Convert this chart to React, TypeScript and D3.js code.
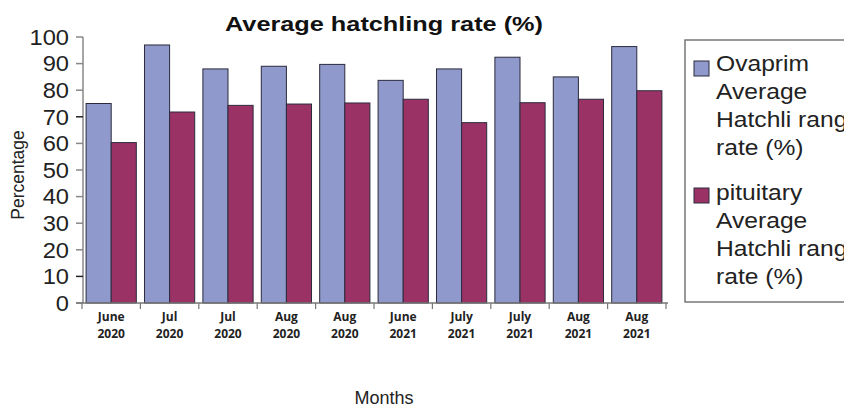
import React from "react";
import * as d3 from "d3";

const months = ["June", "Jul", "Jul", "Aug", "Aug", "June", "July", "July", "Aug", "Aug"];
const years = ["2020", "2020", "2020", "2020", "2020", "2021", "2021", "2021", "2021", "2021"];
const ovaprim = [75, 97, 88, 89, 89.7, 83.7, 88, 92.4, 85, 96.4];
const pituitary = [60.3, 71.8, 74.3, 74.8, 75.2, 76.6, 67.8, 75.3, 76.6, 79.8];
const yTicks = [0, 10, 20, 30, 40, 50, 60, 70, 80, 90, 100];
const seriesNames = ["Ovaprim", "pituitary"];
const legendLines = [
  ["Ovaprim", "Average", "Hatchli rang", "rate (%)"],
  ["pituitary", "Average", "Hatchli rang", "rate (%)"],
];

const W = 844;
const H = 408;
const BLUE = "#9099cb";
const RED = "#9b3266";

export default function App() {
  const idx = months.map((_, i) => i);
  const x = d3.scaleBand<number>().domain(idx).range([82, 666]).paddingInner(0.14).paddingOuter(0.07);
  const x1 = d3.scaleBand<number>().domain([0, 1]).range([0, x.bandwidth()]);
  const y = d3.scaleLinear().domain([0, 100]).range([303, 37]);
  const step = x.step();
  const boundaries = d3.range(0, months.length + 1).map((i) => 82 + i * step);
  const font = "'Liberation Sans', Arial, sans-serif";
  const values = [ovaprim, pituitary];
  const colors = [BLUE, RED];

  return (
    <svg width={W} height={H} style={{ position: "absolute", left: 0, top: 0, background: "#fff" }}>
      <text
        x={225}
        y={31}
        textLength={318}
        lengthAdjust="spacingAndGlyphs"
        fontFamily={font}
        fontWeight="bold"
        fontSize={21}
        fill="#111"
      >
        Average hatchling rate (%)
      </text>
      {/* bars */}
      {idx.map((i) =>
        values.map((vals, s) => (
          <rect
            key={`${i}-${s}`}
            x={(x(i) as number) + (x1(s) as number)}
            y={y(vals[i])}
            width={x1.bandwidth()}
            height={y(0) - y(vals[i])}
            fill={colors[s]}
            stroke="#2b2b3d"
            strokeWidth={1}
          />
        ))
      )}
      {/* y axis */}
      <line x1={83} x2={83} y1={y(100)} y2={y(0)} stroke="#888" strokeWidth={1.5} />
      {yTicks.map((t) => (
        <g key={t}>
          <line x1={76} x2={83} y1={y(t)} y2={y(t)} stroke={t === 10 || t === 70 ? "#222" : "#888"} strokeWidth={1.5} />
          <text
            transform={`translate(69,${y(t)}) scale(1.1,1)`}
            dy="0.36em"
            textAnchor="end"
            fontFamily={font}
            fontSize={21.5}
            fill="#222"
          >
            {t}
          </text>
        </g>
      ))}
      {/* x axis */}
      <line x1={76} x2={668} y1={y(0)} y2={y(0)} stroke="#777" strokeWidth={1.5} />
      {boundaries.map((b, i) => (
        <line key={i} x1={b} x2={b} y1={y(0)} y2={y(0) + 6} stroke="#777" strokeWidth={1.2} />
      ))}
      {idx.map((i) => {
        const cx = (x(i) as number) + x.bandwidth() / 2;
        return (
          <text
            key={i}
            y={y(0) + 18}
            textAnchor="middle"
            fontFamily="'Open Sans', sans-serif"
            fontWeight="bold"
            fontSize={12}
            fill="#222"
          >
            <tspan x={cx} dy="0">{months[i]}</tspan>
            <tspan x={cx} dy="16.5">{years[i]}</tspan>
          </text>
        );
      })}
      <text
        transform="translate(24,175) rotate(-90)"
        textAnchor="middle"
        fontFamily={font}
        fontSize={17.5}
        fill="#222"
      >
        Percentage
      </text>
      <text x={384} y={404} textAnchor="middle" fontFamily={font} fontSize={18} fill="#222">
        Months
      </text>
      {/* legend */}
      <rect x={685} y={40} width={170} height={262} fill="#fff" stroke="#777" strokeWidth={1.5} />
      {seriesNames.map((n, s) => (
        <g key={n}>
          <rect x={694} y={s === 0 ? 61 : 188} width={15} height={15} fill={colors[s]} stroke="#2b2b3d" strokeWidth={1} />
          {legendLines[s].map((ln, k) => (
            <text
              key={k}
              transform={`translate(716,${(s === 0 ? 71 : 200) + k * 28}) scale(1.12,1)`}
              fontFamily={font}
              fontSize={22}
              fill="#222"
            >
              {ln}
            </text>
          ))}
        </g>
      ))}
    </svg>
  );
}
